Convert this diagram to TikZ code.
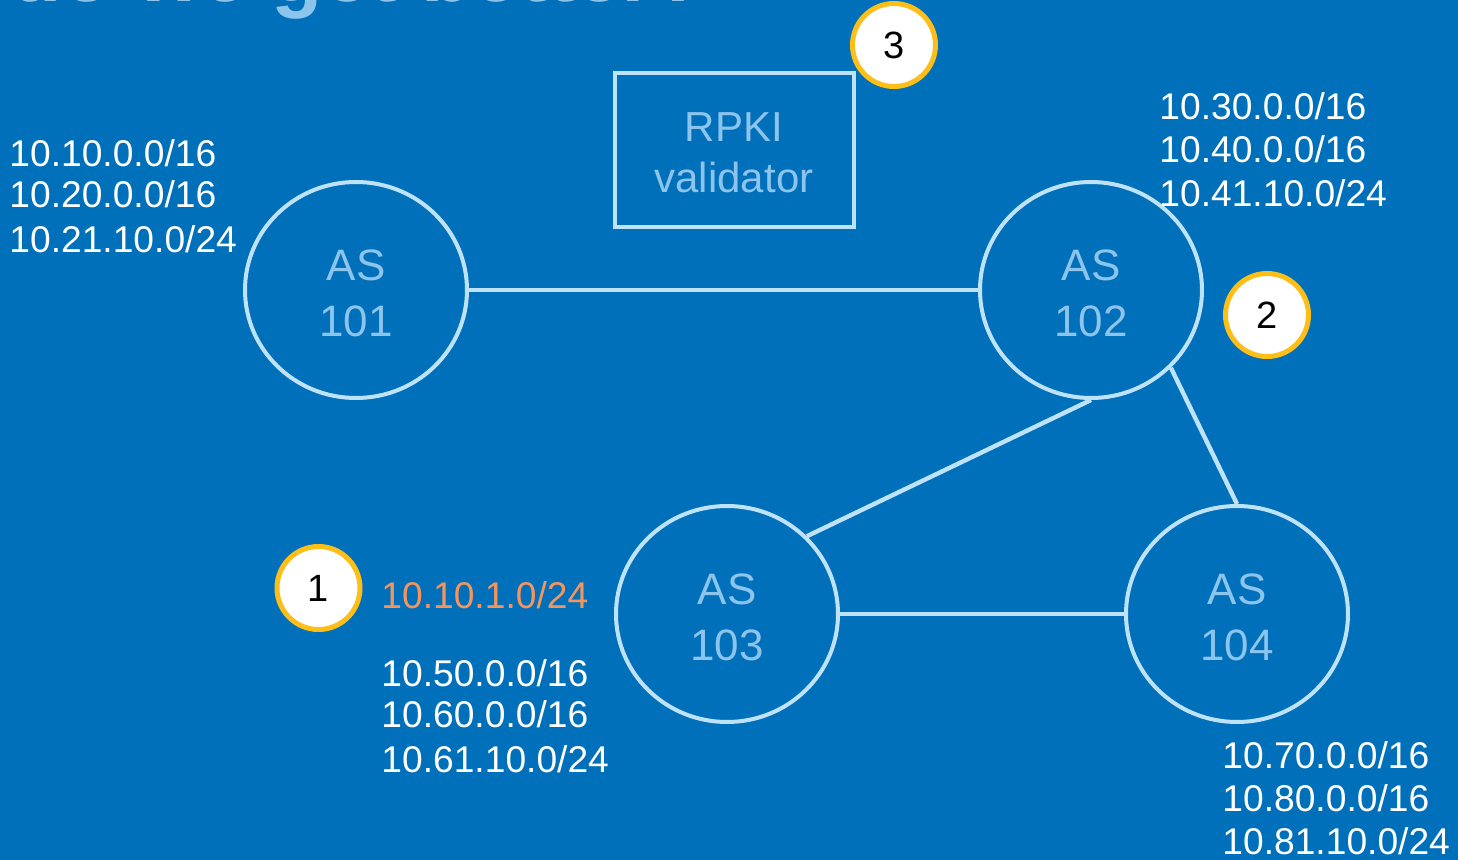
\documentclass[tikz,border=0pt]{standalone}
\usepackage{fontspec}
\setmainfont{Liberation Sans}
\usetikzlibrary{shapes.geometric}
\definecolor{bg}{HTML}{0070BA}
\definecolor{ringblue}{HTML}{BEE3F8}
\definecolor{astext}{HTML}{8CC4EC}
\definecolor{titleblue}{HTML}{8CC4EB}
\definecolor{prefixorange}{HTML}{F5955E}
\definecolor{badgeyellow}{HTML}{FDBE17}
\newcommand{\downpush}[1]{\rule{0pt}{#1}}
\tikzset{
  asnode/.style={ellipse, draw=ringblue, line width=2pt, minimum width=111pt, minimum height=108pt,
    inner sep=0pt, align=center, text=astext, font=\fontsize{22}{28}\selectfont},
  edge/.style={draw=ringblue, line width=2.2pt},
  pfxlabel/.style={anchor=base west, inner sep=0pt, text=white, font=\fontsize{18.6}{20}\selectfont},
  badge/.style={circle, draw=badgeyellow, fill=white, line width=2.5pt, minimum size=41.5pt,
    inner sep=0pt, text=black, font=\fontsize{19}{20}\selectfont},
  validatorbox/.style={rectangle, draw=ringblue, line width=2pt, minimum width=119.5pt, minimum height=77pt,
    inner sep=0pt, align=center, text=astext, font=\fontsize{21}{25.5}\selectfont}
}
\begin{document}
\begin{tikzpicture}[x=0.5pt,y=-0.5pt]
\fill[bg] (0,0) rectangle (1458,860);
\useasboundingbox (0,0) rectangle (1458,860);

% cut-off title
\node[anchor=base west, inner sep=0pt, text=titleblue, font=\fontsize{42}{44}\bfseries] (title) at (10,2) {do we get better?};

% AS nodes
\node[asnode] (as101) at (356,290) {\downpush{19pt}AS\\101};
\node[asnode] (as102) at (1091,290) {\downpush{19pt}AS\\102};
\node[asnode] (as103) at (727,614) {\downpush{19pt}AS\\103};
\node[asnode] (as104) at (1237,614) {\downpush{19pt}AS\\104};

% validator
\node[validatorbox] (rpki) at (734,150) {\downpush{17.5pt}RPKI\\validator};

% links
\draw[edge] (as101) -- (as102);
\draw[edge] (as103) -- (as104);
\draw[edge] (as102.south) -- (as103.north east);
\draw[edge] (as102.south east) -- (as104.north);

% prefixes
\node[pfxlabel] (p1a) at (9,167) {10.10.0.0/16};
\node[pfxlabel] (p1b) at (9,208) {10.20.0.0/16};
\node[pfxlabel] (p1c) at (9,253) {10.21.10.0/24};

\node[pfxlabel] (p2a) at (1159,120) {10.30.0.0/16};
\node[pfxlabel] (p2b) at (1159,163) {10.40.0.0/16};
\node[pfxlabel] (p2c) at (1159,207) {10.41.10.0/24};

\node[pfxlabel, text=prefixorange] (hijack) at (381,609) {10.10.1.0/24};

\node[pfxlabel] (p3a) at (381,687) {10.50.0.0/16};
\node[pfxlabel] (p3b) at (381,728) {10.60.0.0/16};
\node[pfxlabel] (p3c) at (381,773) {10.61.10.0/24};

\node[pfxlabel] (p4a) at (1222,769) {10.70.0.0/16};
\node[pfxlabel] (p4b) at (1222,812) {10.80.0.0/16};
\node[pfxlabel] (p4c) at (1222,855) {10.81.10.0/24};

% badges
\node[badge] (b1) at (318.5,588) {1};
\node[badge] (b2) at (1267,315) {2};
\node[badge] (b3) at (894,45) {3};
\end{tikzpicture}
\end{document}
